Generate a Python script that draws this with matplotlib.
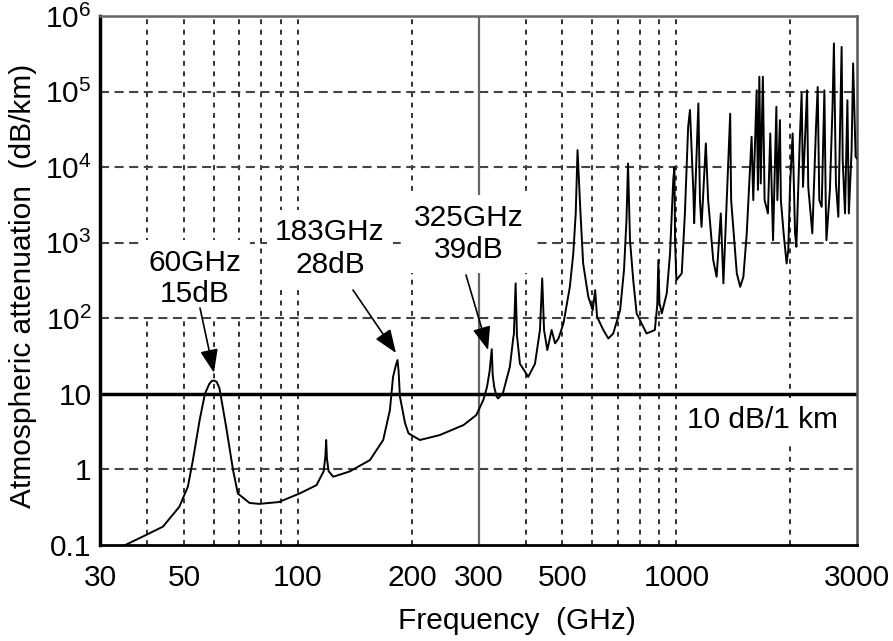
import matplotlib
matplotlib.use("Agg")
import matplotlib.pyplot as plt

# ---------------------------------------------------------------------
# Data (frequency in GHz, attenuation in dB/km)
# ---------------------------------------------------------------------
freq_ghz = [
    35, 39, 44, 48.6, 51.2, 52.8, 55, 56.8, 58.3, 59.2, 60, 61, 62, 63.2, 64.6,
    67.4, 69.4, 74.5, 79, 89, 101, 112, 117, 118.2, 118.75, 119.3, 120.5, 124,
    137, 155, 168, 175, 178.4, 181.5, 183.3, 184.5, 186, 191.9, 196, 210, 237,
    274, 296, 309, 316, 321, 325.2, 327, 330, 335, 338, 348, 363, 371, 372,
    376, 379, 386, 406, 423, 436, 442, 447, 456, 468, 478, 488, 503, 523, 534,
    542, 548, 558, 567, 585, 601, 610, 617, 641, 661, 681, 710, 727, 738, 745,
    754, 769, 785, 834, 877, 890, 896, 902, 915, 943, 962, 981, 988, 992, 1000,
    1033, 1053, 1074, 1086, 1109, 1114, 1143, 1154, 1165, 1196, 1213, 1251,
    1277, 1303, 1310, 1331, 1387, 1395, 1444, 1474, 1503, 1534, 1580, 1596,
    1629, 1642, 1656, 1670, 1692, 1710, 1745, 1770, 1800, 1837, 1848, 1877,
    1888, 1920, 1955, 1975, 1996, 2028, 2058, 2075, 2118, 2142, 2160, 2214,
    2230, 2286, 2338, 2362, 2385, 2420, 2460, 2480, 2491, 2544, 2585, 2607,
    2639, 2678, 2732, 2750, 2789, 2830, 2855, 2903, 2930, 2975, 3000,
]
atten_db_km = [
    0.10, 0.13, 0.175, 0.32, 0.59, 1.33, 4.5, 10.0, 13.5, 14.8, 15, 14.4, 12.0,
    7.0, 3.7, 0.98, 0.48, 0.36, 0.35, 0.37, 0.48, 0.62, 0.95, 1.5, 2.45, 1.4,
    0.95, 0.80, 0.94, 1.33, 2.45, 6.1, 16.8, 24, 28, 20, 9.2, 4.1, 3.0, 2.45,
    2.85, 3.87, 5.24, 8.3, 12.4, 20, 39, 18, 12.4, 9.2, 8.7, 10.2, 22.8, 57,
    60, 290, 60, 25, 16.8, 25, 70, 337, 70, 38, 70, 46.6, 54, 85.5, 261, 721,
    2440, 16800, 2440, 532, 193, 128, 236, 105, 70, 54, 63, 128, 434, 1990,
    11200, 1080, 320, 116, 63, 70, 150, 590, 160, 116, 214, 721, 6730, 10000,
    1000, 320, 393, 2440, 34000, 57000, 4490, 1815, 69700, 3660, 1620, 20600,
    3660, 590, 354, 1620, 2440, 290, 51000, 3660, 393, 261, 354, 1330, 25200,
    3660, 104000, 5000, 157000, 6080, 157000, 3660, 2440, 27900, 1080, 62900,
    3660, 41900, 3660, 1330, 532, 798, 5490, 27900, 1330, 883, 22700, 94400,
    5490, 104000, 5490, 1330, 34000, 115000, 3660, 2980, 104000, 3660, 1080,
    4970, 62900, 433000, 6080, 2200, 390000, 12400, 2440, 76900, 2440, 16800,
    236000, 13700, 13000,
]

x_ticks = [30, 50, 100, 200, 300, 500, 1000, 3000]
x_tick_labels = ["30", "50", "100", "200", "300", "500", "1000", "3000"]
y_ticks = [0.1, 1, 10, 1e2, 1e3, 1e4, 1e5, 1e6]
y_tick_labels = ["0.1", "1", "10", "10$^2$", "10$^3$", "10$^4$", "10$^5$", "10$^6$"]

x_grid = [40, 50, 60, 70, 80, 90, 100, 200, 400, 500, 600, 700, 800, 900, 1000, 2000]
y_grid = [1, 1e2, 1e3, 1e4, 1e5]

# ---------------------------------------------------------------------
# Style
# ---------------------------------------------------------------------
plt.rcParams["font.family"] = ["Liberation Sans", "DejaVu Sans"]
plt.rcParams["mathtext.fontset"] = "custom"
plt.rcParams["mathtext.rm"] = "Liberation Sans"
plt.rcParams["mathtext.it"] = "Liberation Sans"
plt.rcParams["lines.scale_dashes"] = False
FS = 21.5

fig = plt.figure(figsize=(8.93, 6.41), dpi=100)
ax = fig.add_axes([100 / 893, 96 / 641, 757 / 893, 529 / 641])
ax.set_xscale("log")
ax.set_yscale("log")
ax.set_xlim(30, 3000)
ax.set_ylim(0.1, 1e6)

# grid lines
for gx in x_grid:
    ax.axvline(gx, color="#222222", lw=1.3, ls=(0, (3.5, 4)), zorder=1)
for gy in y_grid:
    ax.axhline(gy, color="#444444", lw=1.5, ls=(0, (6.5, 4)), zorder=1)
ax.axvline(300, color="#666666", lw=1.6, zorder=1)
ax.axhline(10, color="black", lw=2.5, zorder=2)

# attenuation curve
ax.plot(freq_ghz, atten_db_km, color="black", lw=1.4, zorder=3)

# ticks
ax.set_xticks(x_ticks)
ax.set_xticklabels(x_tick_labels, fontsize=FS)
ax.set_yticks(y_ticks)
ax.set_yticklabels(y_tick_labels, fontsize=FS)
ax.minorticks_off()
ax.tick_params(axis="both", length=0)
ax.tick_params(axis="x", pad=14)
ax.tick_params(axis="y", pad=6)

ax.set_xlabel("Frequency  (GHz)", fontsize=FS)
ax.xaxis.set_label_coords(0.551, -0.118)
ax.set_ylabel("Atmospheric attenuation  (dB/km)", fontsize=FS)
ax.yaxis.set_label_coords(-0.083, 0.49)

for side, lw, col in [("left", 2.5, "black"), ("bottom", 2.0, "black"),
                      ("top", 1.8, "#666666"), ("right", 1.8, "#555555")]:
    ax.spines[side].set_linewidth(lw)
    ax.spines[side].set_color(col)

# annotations
box = dict(facecolor="white", edgecolor="none", pad=6)
ax.text(0.1255, 0.5038, "60GHz\n15dB", transform=ax.transAxes, ha="center",
        va="center", fontsize=FS, linespacing=1.15, bbox=box, zorder=4)
ax.text(0.3038, 0.5605, "183GHz\n28dB", transform=ax.transAxes, ha="center",
        va="center", fontsize=FS, linespacing=1.2, bbox=box, zorder=4)
ax.text(0.4875, 0.5879, "325GHz\n39dB", transform=ax.transAxes, ha="center",
        va="center", fontsize=FS, linespacing=1.2, bbox=box, zorder=4)
ax.text(0.8758, 0.2363, "10 dB/1 km", transform=ax.transAxes, ha="center",
        va="center", fontsize=FS, bbox=box, zorder=4)

arrow = dict(arrowstyle="-|>,head_length=0.65,head_width=0.25", color="black",
             lw=1.2, shrinkA=0, shrinkB=0, mutation_scale=22)
ax.annotate("", xy=(60, 19), xycoords="data", xytext=(0.1321, 0.448),
            textcoords="axes fraction", arrowprops=arrow, zorder=5)
ax.annotate("", xy=(181.6, 34.7), xycoords="data", xytext=(0.3342, 0.482),
            textcoords="axes fraction", arrowprops=arrow, zorder=5)
ax.annotate("", xy=(318, 38), xycoords="data", xytext=(0.4835, 0.5104),
            textcoords="axes fraction", arrowprops=arrow, zorder=5)

fig.savefig("out.png", dpi=100)
